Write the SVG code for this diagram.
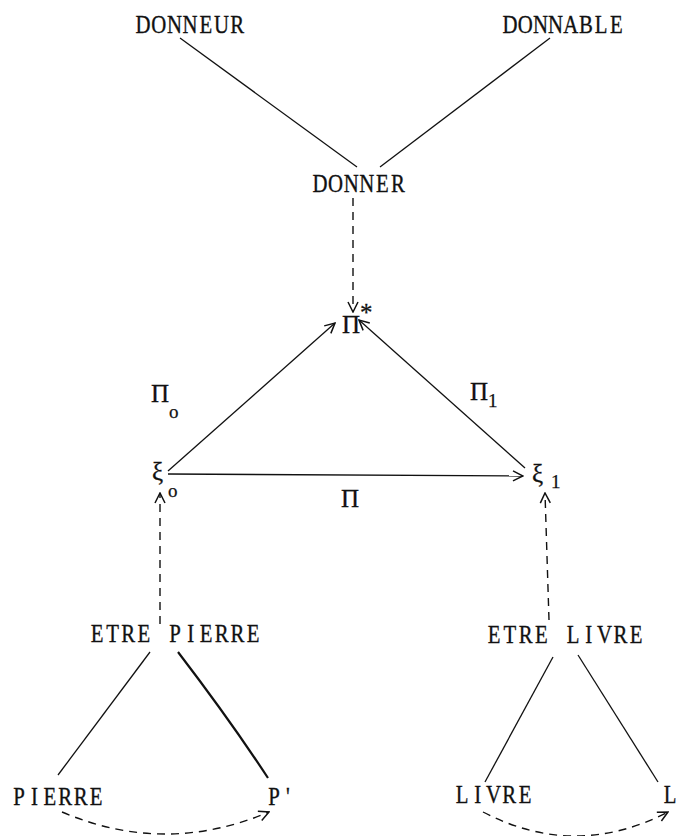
<svg xmlns="http://www.w3.org/2000/svg" width="685" height="836" viewBox="0 0 685 836">
<defs>
<style>
.t{font-family:"Liberation Serif","DejaVu Serif",serif;font-size:26px;fill:#111;stroke:#111;stroke-width:0.35;text-anchor:middle}
.g{font-family:"Liberation Serif","DejaVu Serif",serif;font-size:25px;fill:#111;stroke:#111;stroke-width:0.3}
.s{font-family:"Liberation Serif","DejaVu Serif",serif;font-size:19px;fill:#111;stroke:#111;stroke-width:0.25}
.l{stroke:#111;stroke-width:1.3;fill:none}
.d{stroke:#111;stroke-width:1.4;fill:none;stroke-dasharray:8 6}
</style>
<marker id="a" viewBox="0 0 12 12" refX="11" refY="6" markerWidth="12" markerHeight="12" markerUnits="userSpaceOnUse" orient="auto">
<path d="M1,1 L11,6 L1,11" fill="none" stroke="#111" stroke-width="1.5"/>
</marker>
</defs>
<rect width="685" height="836" fill="#fff"/>
<g id="connectors">
<line class="l" x1="180" y1="38" x2="357" y2="167"/>
<line class="l" x1="550" y1="38" x2="380" y2="167"/>
<line class="d" x1="353" y1="198" x2="353" y2="312" marker-end="url(#a)"/>
<line class="l" x1="168" y1="471" x2="335" y2="323" marker-end="url(#a)"/>
<line class="l" x1="525" y1="468" x2="359" y2="320" marker-end="url(#a)"/>
<line class="l" x1="168" y1="474" x2="523" y2="476" marker-end="url(#a)"/>
<line class="d" x1="160" y1="624" x2="160" y2="493" marker-end="url(#a)"/>
<line class="d" x1="549" y1="620" x2="545" y2="493" marker-end="url(#a)"/>
<line class="l" x1="150" y1="652" x2="58" y2="775"/>
<path class="l" style="stroke-width:2.2" d="M178,652 Q230,720 268,778"/>
<line class="l" x1="553" y1="657" x2="485" y2="782"/>
<line class="l" x1="578" y1="655" x2="658" y2="782"/>
<path class="d" d="M62,812 Q165,856 269,812" marker-end="url(#a)"/>
<path class="d" d="M483,812 Q575,860 668,812" marker-end="url(#a)"/>
</g>
<g id="donneur"><text class="t" transform="scale(0.8 1)" x="178.75 198.375 218 237.625 257.25 276.875 296.5" y="33">DONNEUR</text></g>
<g id="donnable"><text class="t" transform="scale(0.8 1)" x="637.5 656.5 675.5 694.5 713.5 732.5 751.5 770.5" y="33">DONNABLE</text></g>
<g id="donner"><text class="t" transform="scale(0.8 1)" x="400 419.5 439 458.5 478 497.5" y="192">DONNER</text></g>
<g id="pistar"><text class="g" x="342" y="333">Π</text><text class="g" x="360" y="321">*</text></g>
<g id="pi0"><text class="g" x="151" y="402">Π</text><text class="s" x="169" y="418">o</text></g>
<g id="pi1"><text class="g" x="470" y="400">Π</text><text class="s" x="488" y="407">1</text></g>
<g id="xi0"><text class="g" x="152" y="480">ξ</text><text class="s" x="168" y="497">o</text></g>
<g id="xi1"><text class="g" x="532" y="482">ξ</text><text class="s" x="551" y="488">1</text></g>
<g id="pi"><text class="g" x="341" y="507">Π</text></g>
<g id="etrepierre"><text class="t" transform="scale(0.8 1)" x="121.25 140.75 160.25 179.75 199.25 218.75 238.25 257.75 277.25 296.75 316.25" y="642">ETRE PIERRE</text></g>
<g id="etrelivre"><text class="t" transform="scale(0.8 1)" x="617.5 637.25 657 676.75 696.5 716.25 736 755.75 775.5 795.25" y="643">ETRE LIVRE</text></g>
<g id="pierre"><text class="t" transform="scale(0.8 1)" x="23.75 43 62.25 81.5 100.75 120" y="805">PIERRE</text></g>
<g id="pprime"><text class="t" transform="scale(0.8 1)" x="342.5 360" y="805">P'</text></g>
<g id="livre"><text class="t" transform="scale(0.8 1)" x="577.5 597.19 616.88 636.56 656.25" y="803">LIVRE</text></g>
<g id="l"><text class="t" transform="scale(0.8 1)" x="837.5" y="803">L</text></g>
</svg>
